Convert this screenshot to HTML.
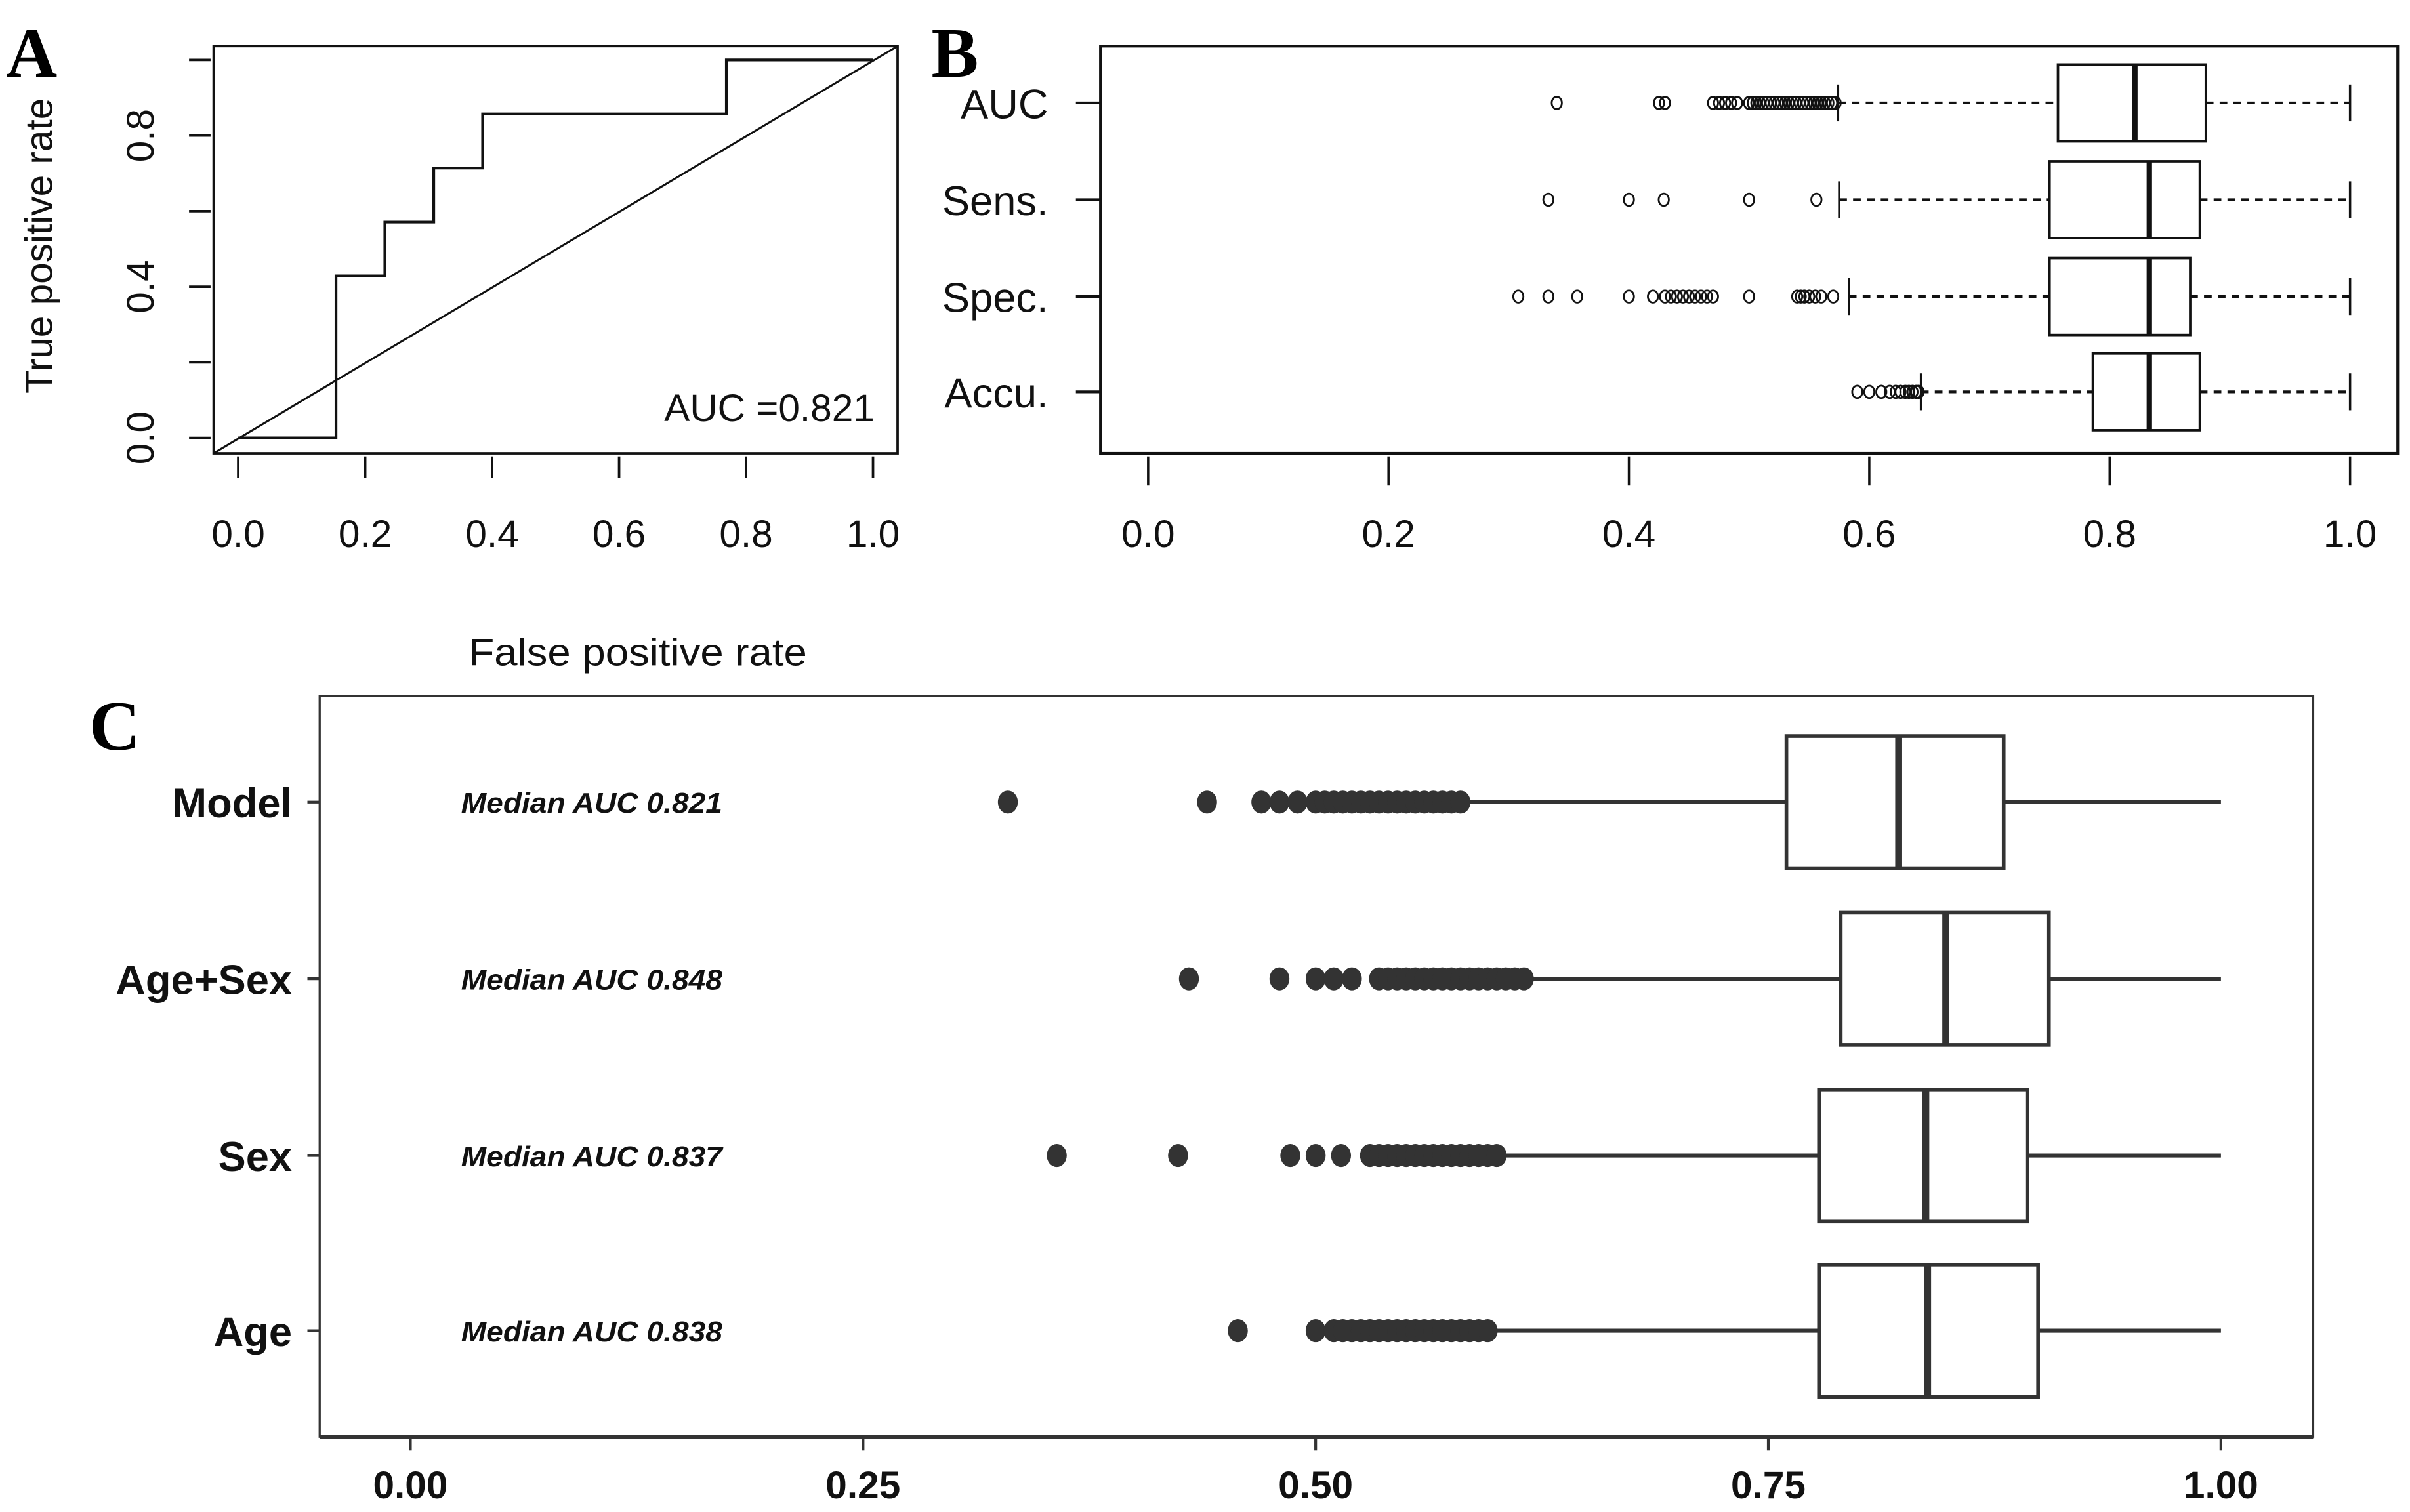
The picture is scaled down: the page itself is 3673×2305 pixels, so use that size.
<!DOCTYPE html>
<html><head><meta charset="utf-8"><style>
html,body{margin:0;padding:0;background:#fff;}
svg{display:block;}
text{font-family:"Liberation Sans",sans-serif;}
text.serif{font-family:"Liberation Serif",serif;}
</style></head><body>
<svg id="fig" xmlns="http://www.w3.org/2000/svg" width="3673" height="2305" viewBox="0 0 1568 984" preserveAspectRatio="none">
<g id="panelA"></g>
<g id="panelB"></g>
<g id="panelC"></g>
</svg>
<script>
// ---- Panel A data ----
const rocFpr = [0, 0.154, 0.154, 0.231, 0.231, 0.308, 0.308, 0.385, 0.385, 0.769, 0.769, 1.0];
const rocTpr = [0, 0, 0.4286, 0.4286, 0.571, 0.571, 0.714, 0.714, 0.857, 0.857, 1.0, 1.0];
const aTicks = [0, 0.2, 0.4, 0.6, 0.8, 1.0];
const aTickLabels = ["0.0", "0.2", "0.4", "0.6", "0.8", "1.0"];
const aYLabels = ["0.0", "", "0.4", "", "0.8", ""];
// ---- Panel B data ----
const bCats = ["AUC", "Sens.", "Spec.", "Accu."];
const bQ1 = [0.757, 0.75, 0.75, 0.786];
const bMed = [0.821, 0.833, 0.833, 0.833];
const bQ3 = [0.88, 0.875, 0.867, 0.875];
const bLo = [0.574, 0.575, 0.583, 0.643];
const bHi = [1.0, 1.0, 1.0, 1.0];
const bOut0 = [0.34, 0.425, 0.43, 0.47, 0.475, 0.48, 0.485, 0.49, 0.5, 0.503, 0.506, 0.509, 0.512, 0.515, 0.518, 0.521, 0.524, 0.527, 0.53, 0.533, 0.536, 0.539, 0.542, 0.545, 0.548, 0.551, 0.554, 0.557, 0.56, 0.563, 0.566, 0.569, 0.572];
const bOut1 = [0.333, 0.4, 0.429, 0.5, 0.556];
const bOut2 = [0.308, 0.333, 0.357, 0.4, 0.42, 0.43, 0.435, 0.44, 0.445, 0.45, 0.455, 0.46, 0.465, 0.47, 0.5, 0.54, 0.543, 0.546, 0.55, 0.555, 0.56, 0.57];
const bOut3 = [0.59, 0.6, 0.61, 0.617, 0.622, 0.626, 0.63, 0.633, 0.636, 0.639, 0.641];
const bTicks = [0, 0.2, 0.4, 0.6, 0.8, 1.0];
const bTickLabels = ["0.0", "0.2", "0.4", "0.6", "0.8", "1.0"];
// ---- Panel C data ----
const cCats = ["Model", "Age+Sex", "Sex", "Age"];
const cMedianText = ["Median AUC 0.821", "Median AUC 0.848", "Median AUC 0.837", "Median AUC 0.838"];
const cQ1 = [0.76, 0.79, 0.778, 0.778];
const cMed = [0.822, 0.848, 0.837, 0.838];
const cQ3 = [0.88, 0.905, 0.893, 0.899];
const cLo = [0.585, 0.62, 0.605, 0.6];
const cHi = [1.0, 1.0, 1.0, 1.0];
const cOut0 = [0.33, 0.44, 0.47, 0.48, 0.49, 0.50, 0.505, 0.51, 0.515, 0.52, 0.525, 0.53, 0.535, 0.54, 0.545, 0.55, 0.555, 0.56, 0.565, 0.57, 0.575, 0.58];
const cOut1 = [0.43, 0.48, 0.50, 0.51, 0.52, 0.535, 0.54, 0.545, 0.55, 0.555, 0.56, 0.565, 0.57, 0.575, 0.58, 0.585, 0.59, 0.595, 0.6, 0.605, 0.61, 0.615];
const cOut2 = [0.357, 0.424, 0.486, 0.5, 0.514, 0.53, 0.535, 0.54, 0.545, 0.55, 0.555, 0.56, 0.565, 0.57, 0.575, 0.58, 0.585, 0.59, 0.595, 0.6];
const cOut3 = [0.457, 0.5, 0.51, 0.515, 0.52, 0.525, 0.53, 0.535, 0.54, 0.545, 0.55, 0.555, 0.56, 0.565, 0.57, 0.575, 0.58, 0.585, 0.59, 0.595];
const cTicks = [0, 0.25, 0.5, 0.75, 1.0];
const cTickLabels = ["0.00", "0.25", "0.50", "0.75", "1.00"];

const NS = "http://www.w3.org/2000/svg";
function mk(parent, tag, attrs, txt) {
  const e = document.createElementNS(NS, tag);
  for (const k in attrs) e.setAttribute(k, attrs[k]);
  if (txt !== undefined) e.textContent = txt;
  parent.appendChild(e);
  return e;
}

// ---------- Panel A ----------
(function () {
  const g = document.getElementById('panelA');
  const xA = v => 155 + v * 413;
  const yA = v => 285 - v * 246;
  let e;
  e = mk(g, 'rect', { x: 139, y: 30, width: 445, height: 265, fill: 'none', stroke: '#111', 'stroke-width': 1.6 });
  
  
  e = mk(g, 'line', { x1: 139, y1: 295, x2: 584, y2: 30, stroke: '#111', 'stroke-width': 1.3 });
  
  
  let d = '';
  for (let i = 0; i < rocFpr.length; i++) d += (i ? 'L' : 'M') + xA(rocFpr[i]) + ' ' + yA(rocTpr[i]);
  e = mk(g, 'path', { d: d, fill: 'none', stroke: '#111', 'stroke-width': 1.8 });
  
  
  aTicks.forEach((t, i) => {
    e = mk(g, 'line', { x1: xA(t), y1: 297, x2: xA(t), y2: 311, stroke: '#111', 'stroke-width': 1.6 });
    
    
    e = mk(g, 'text', { x: xA(t), y: 356, 'font-size': 25, 'text-anchor': 'middle', fill: '#111' }, aTickLabels[i]);
    
    
    e = mk(g, 'line', { x1: 123, y1: yA(t), x2: 137, y2: yA(t), stroke: '#111', 'stroke-width': 1.6 });
    
    
    if (aYLabels[i]) {
      e = mk(g, 'text', { x: 0, y: 0, 'font-size': 25, 'text-anchor': 'middle', fill: '#111', transform: `translate(100 ${yA(t)}) rotate(-90)` }, aYLabels[i]);
      
      
    }
  });
  e = mk(g, 'text', { x: 0, y: 0, 'font-size': 25, 'text-anchor': 'middle', fill: '#111', transform: 'translate(34 160) rotate(-90)' }, 'True positive rate');
  
  
  e = mk(g, 'text', { x: 569, y: 274, 'font-size': 25, 'text-anchor': 'end', fill: '#111' }, 'AUC =0.821');
  
  
  e = mk(g, 'text', { x: 305, y: 433, 'font-size': 25, fill: '#111', textLength: 220, lengthAdjust: 'spacingAndGlyphs' }, 'False positive rate');
  
  
  e = mk(g, 'text', { class: 'serif', x: 4, y: 50, 'font-size': 46, 'font-weight': 'bold', fill: '#000' }, 'A');
  
  
})();

// ---------- Panel B ----------
(function () {
  const g = document.getElementById('panelB');
  const xB = v => 747 + v * 782;
  const rowY = [67, 130, 193, 255];
  const outs = [bOut0, bOut1, bOut2, bOut3];
  let e;
  e = mk(g, 'rect', { x: 716, y: 30, width: 844, height: 265, fill: 'none', stroke: '#111', 'stroke-width': 1.8 });
  
  
  bTicks.forEach((t, i) => {
    e = mk(g, 'line', { x1: xB(t), y1: 297, x2: xB(t), y2: 316, stroke: '#111', 'stroke-width': 1.5 });
    
    
    e = mk(g, 'text', { x: xB(t), y: 356, 'font-size': 25, 'text-anchor': 'middle', fill: '#111' }, bTickLabels[i]);
    
    
  });
  bCats.forEach((c, i) => {
    const y = rowY[i];
    e = mk(g, 'line', { x1: 700, y1: y, x2: 716, y2: y, stroke: '#111', 'stroke-width': 1.8 });
    
    
    e = mk(g, 'text', { x: 682, y: y + 10, 'font-size': 27, 'text-anchor': 'end', fill: '#111' }, c);
    
    
    e = mk(g, 'line', { x1: xB(bLo[i]), y1: y, x2: xB(bQ1[i]), y2: y, stroke: '#111', 'stroke-width': 1.8, 'stroke-dasharray': '5 4' });
    
    
    e = mk(g, 'line', { x1: xB(bQ3[i]), y1: y, x2: xB(bHi[i]), y2: y, stroke: '#111', 'stroke-width': 1.8, 'stroke-dasharray': '5 4' });
    
    
    e = mk(g, 'line', { x1: xB(bLo[i]), y1: y - 12, x2: xB(bLo[i]), y2: y + 12, stroke: '#111', 'stroke-width': 1.5 });
    
    
    e = mk(g, 'line', { x1: xB(bHi[i]), y1: y - 12, x2: xB(bHi[i]), y2: y + 12, stroke: '#111', 'stroke-width': 1.5 });
    
    
    e = mk(g, 'rect', { x: xB(bQ1[i]), y: y - 25, width: xB(bQ3[i]) - xB(bQ1[i]), height: 50, fill: '#fff', stroke: '#111', 'stroke-width': 1.6 });
    
    
    e = mk(g, 'line', { x1: xB(bMed[i]), y1: y - 25, x2: xB(bMed[i]), y2: y + 25, stroke: '#111', 'stroke-width': 3.5 });
    
    
    outs[i].forEach(v => {
      e = mk(g, 'ellipse', { cx: xB(v), cy: y, rx: 3.3, ry: 4, fill: 'none', stroke: '#111', 'stroke-width': 1.2 });
      
      
    });
  });
  e = mk(g, 'text', { class: 'serif', x: 606, y: 50, 'font-size': 46, 'font-weight': 'bold', fill: '#000' }, 'B');
  
  
})();

// ---------- Panel C ----------
(function () {
  const g = document.getElementById('panelC');
  const xC = v => 267 + v * 1178;
  const rowY = [522, 637, 752, 866];
  const outs = [cOut0, cOut1, cOut2, cOut3];
  let e;
  e = mk(g, 'rect', { x: 208, y: 453, width: 1297, height: 482, fill: 'none', stroke: '#333', 'stroke-width': 1.4 });
  
  
  e = mk(g, 'line', { x1: 208, y1: 935, x2: 1505, y2: 935, stroke: '#333', 'stroke-width': 2.4 });
  
  
  cTicks.forEach((t, i) => {
    e = mk(g, 'line', { x1: xC(t), y1: 935, x2: xC(t), y2: 944, stroke: '#333', 'stroke-width': 1.8 });
    
    
    e = mk(g, 'text', { x: xC(t), y: 975, 'font-size': 25, 'font-weight': 'bold', 'text-anchor': 'middle', fill: '#111' }, cTickLabels[i]);
    
    
  });
  cCats.forEach((c, i) => {
    const y = rowY[i];
    e = mk(g, 'line', { x1: 200, y1: y, x2: 208, y2: y, stroke: '#333', 'stroke-width': 1.8 });
    
    
    e = mk(g, 'text', { x: 190, y: y + 10, 'font-size': 27, 'font-weight': 'bold', 'text-anchor': 'end', fill: '#111' }, c);
    
    
    e = mk(g, 'text', { x: 300, y: y + 7, 'font-size': 18.5, 'font-weight': 'bold', 'font-style': 'italic', fill: '#111', textLength: 170, lengthAdjust: 'spacingAndGlyphs' }, cMedianText[i]);
    
    
    e = mk(g, 'line', { x1: xC(cLo[i]), y1: y, x2: xC(cHi[i]), y2: y, stroke: '#333', 'stroke-width': 2.6 });
    
    
    e = mk(g, 'rect', { x: xC(cQ1[i]), y: y - 43, width: xC(cQ3[i]) - xC(cQ1[i]), height: 86, fill: '#fff', stroke: '#333', 'stroke-width': 2.4 });
    
    
    e = mk(g, 'line', { x1: xC(cMed[i]), y1: y - 43, x2: xC(cMed[i]), y2: y + 43, stroke: '#333', 'stroke-width': 4.5 });
    
    
    outs[i].forEach(v => {
      e = mk(g, 'ellipse', { cx: xC(v), cy: y, rx: 6.5, ry: 7.5, fill: '#333' });
      
      
    });
  });
  e = mk(g, 'text', { class: 'serif', x: 58, y: 488, 'font-size': 46, 'font-weight': 'bold', fill: '#000' }, 'C');
  
  
})();
</script>
</body></html>
